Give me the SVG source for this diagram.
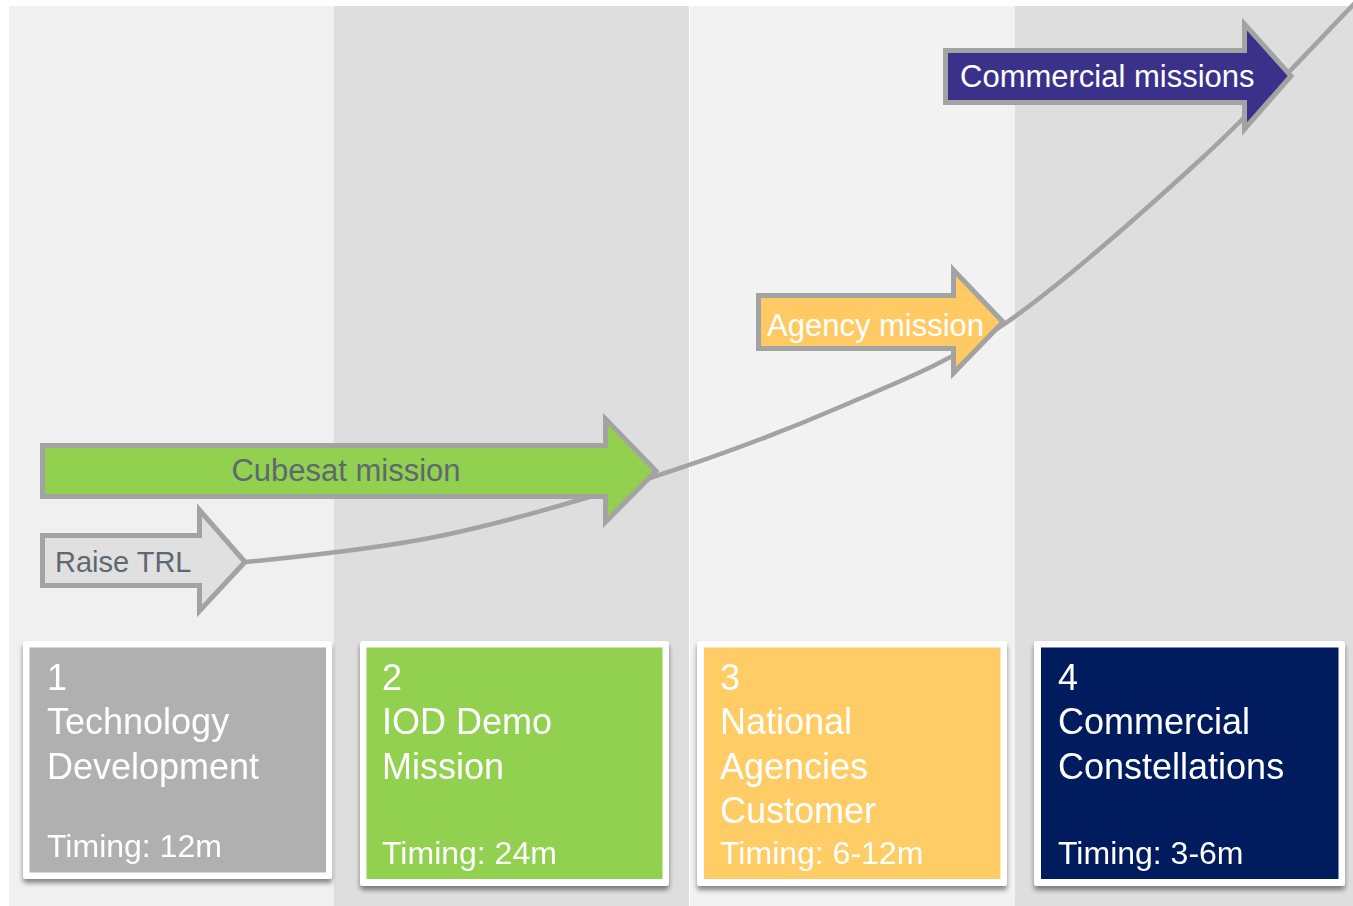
<svg xmlns="http://www.w3.org/2000/svg" width="1353" height="906" viewBox="0 0 1353 906">
  <defs>
    <filter id="cardShadow" x="-10%" y="-10%" width="120%" height="125%">
      <feGaussianBlur in="SourceAlpha" stdDeviation="2.5"/>
      <feOffset dx="0" dy="4" result="blur"/>
      <feComponentTransfer><feFuncA type="linear" slope="0.45"/></feComponentTransfer>
      <feMerge><feMergeNode/><feMergeNode in="SourceGraphic"/></feMerge>
    </filter>
    <style>
      text { font-family: "Liberation Sans", Arial, sans-serif; }
      .arrow { stroke: #a3a3a3; stroke-width: 5; stroke-linejoin: miter; stroke-miterlimit: 10; }
      .curve { fill: none; stroke: #a3a3a3; stroke-width: 4.5; }
      .lbl { font-size: 31px; }
      .dark { fill: #5e6870; }
      .light { fill: #ffffff; }
      .card-frame { fill: #ffffff; }
      .title { font-size: 36px; fill: #ffffff; }
      .timing { font-size: 32px; fill: #ffffff; }
    </style>
  </defs>

  <!-- page and the four phase columns -->
  <rect x="0" y="0" width="1353" height="906" fill="#ffffff"/>
  <rect x="9" y="6" width="325" height="900" fill="#f0f0f0"/>
  <rect x="334" y="6" width="355" height="900" fill="#dedede"/>
  <rect x="689" y="6" width="326" height="900" fill="#f2f2f2"/>
  <rect x="1015" y="6" width="338" height="900" fill="#dedede"/>
  <line x1="689.5" y1="6" x2="689.5" y2="906" stroke="#ffffff" stroke-width="1"/>

  <!-- growth curve linking the arrows -->
  <g id="connectors">
    <path class="curve" d="M246,562 C285,558 372.7,550 440,536 C507.3,522 583.3,499.5 650,478 C716.7,456.5 781.2,432.5 840,407 C898.8,381.5 943,366.2 1003,325 C1063,283.8 1141.7,213.3 1200,160 C1258.3,106.7 1327.5,30.8 1356,2"/>
  </g>

  <!-- mission arrows -->
  <g id="arrow-raise-trl">
    <path class="arrow" fill="#e0e0e0" d="M42.5,535.5 H199.5 V510 L245,562 L199.5,611 V585.5 H42.5 Z"/>
    <text class="dark" x="55" y="572" font-size="29">Raise TRL</text>
  </g>
  <g id="arrow-cubesat">
    <path class="arrow" fill="#92d050" d="M42.5,445.5 H605.5 V419 L656,471 L605.5,522 V496.5 H42.5 Z"/>
    <text class="lbl dark" x="346" y="481" text-anchor="middle">Cubesat mission</text>
  </g>
  <g id="arrow-agency">
    <path class="arrow" fill="#ffca64" d="M758.5,295.5 H953.5 V270 L1003,322 L953.5,373 V348.5 H758.5 Z"/>
    <text class="lbl light" x="767" y="336">Agency mission</text>
  </g>
  <g id="arrow-commercial">
    <path class="arrow" fill="#3a318a" d="M945.5,50.5 H1244.5 V24 L1291,76 L1244.5,129 V102.5 H945.5 Z"/>
    <text class="lbl light" x="960" y="87">Commercial missions</text>
  </g>

  <!-- phase cards -->
  <g id="card-1" filter="url(#cardShadow)">
    <rect class="card-frame" x="23" y="641" width="309" height="238" rx="3"/>
    <rect x="29.5" y="647.5" width="296.5" height="225" fill="#b0b0b0"/>
    <text class="title" x="47" y="690">1</text>
    <text class="title" x="47" y="734">Technology</text>
    <text class="title" x="47" y="779">Development</text>
    <text class="timing" x="47" y="857">Timing: 12m</text>
  </g>
  <g id="card-2" filter="url(#cardShadow)">
    <rect class="card-frame" x="360" y="641" width="309" height="245" rx="3"/>
    <rect x="366.5" y="647.5" width="296" height="231.5" fill="#92d050"/>
    <text class="title" x="382" y="690">2</text>
    <text class="title" x="382" y="734">IOD Demo</text>
    <text class="title" x="382" y="779">Mission</text>
    <text class="timing" x="382" y="864">Timing: 24m</text>
  </g>
  <g id="card-3" filter="url(#cardShadow)">
    <rect class="card-frame" x="697" y="641" width="310" height="245" rx="3"/>
    <rect x="704" y="647.5" width="296.5" height="231.5" fill="#ffcc66"/>
    <text class="title" x="720" y="690">3</text>
    <text class="title" x="720" y="734">National</text>
    <text class="title" x="720" y="779">Agencies</text>
    <text class="title" x="720" y="823">Customer</text>
    <text class="timing" x="720" y="864">Timing: 6-12m</text>
  </g>
  <g id="card-4" filter="url(#cardShadow)">
    <rect class="card-frame" x="1034" y="641" width="311" height="245" rx="3"/>
    <rect x="1041" y="647.5" width="297.5" height="231.5" fill="#001f5f"/>
    <text class="title" x="1058" y="690">4</text>
    <text class="title" x="1058" y="734">Commercial</text>
    <text class="title" x="1058" y="779">Constellations</text>
    <text class="timing" x="1058" y="864">Timing: 3-6m</text>
  </g>
</svg>
